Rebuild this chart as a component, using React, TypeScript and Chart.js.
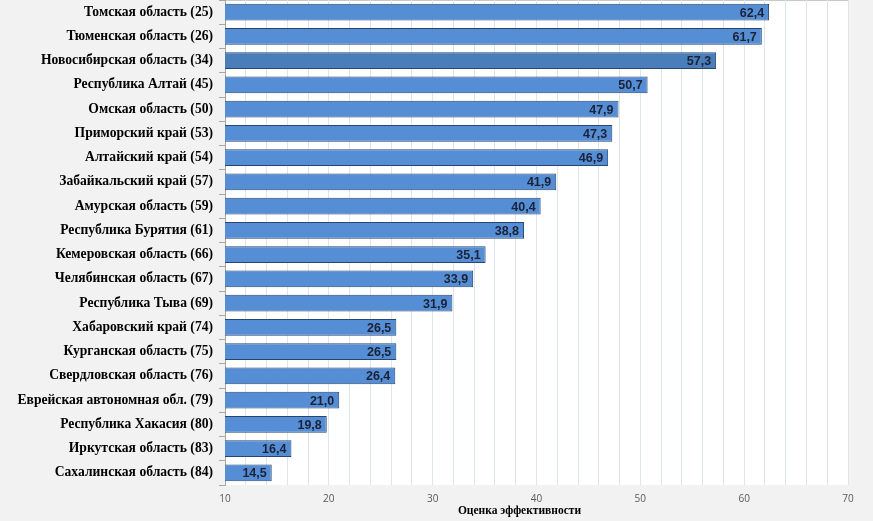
import React, { useEffect, useRef } from "react";
import { Chart, registerables } from "chart.js";

Chart.register(...registerables);

const regions = [
  "Томская область (25)",
  "Тюменская область (26)",
  "Новосибирская область (34)",
  "Республика Алтай (45)",
  "Омская область (50)",
  "Приморский край (53)",
  "Алтайский край (54)",
  "Забайкальский край (57)",
  "Амурская область (59)",
  "Республика Бурятия (61)",
  "Кемеровская область (66)",
  "Челябинская область (67)",
  "Республика Тыва (69)",
  "Хабаровский край (74)",
  "Курганская область (75)",
  "Свердловская область (76)",
  "Еврейская автономная обл. (79)",
  "Республика Хакасия (80)",
  "Иркутская область (83)",
  "Сахалинская область (84)",
];

const scores = [
  62.4, 61.7, 57.3, 50.7, 47.9, 47.3, 46.9, 41.9, 40.4, 38.8, 35.1, 33.9, 31.9,
  26.5, 26.5, 26.4, 21.0, 19.8, 16.4, 14.5,
];

const highlighted = "Новосибирская область (34)";
const axisTitle = "Оценка эффективности";
const xMin = 10;
const xMax = 70;

const backgroundPlugin = {
  id: "bgPlugin",
  beforeDraw(chart: any) {
    const { ctx, chartArea } = chart;
    ctx.save();
    ctx.fillStyle = "#f2f2f2";
    ctx.fillRect(0, 0, chart.width, chart.height);
    ctx.fillStyle = "#ffffff";
    ctx.fillRect(
      chartArea.left,
      chartArea.top,
      chartArea.right - chartArea.left,
      chartArea.bottom - chartArea.top
    );
    ctx.strokeStyle = "#c8c8c8";
    ctx.lineWidth = 1;
    ctx.beginPath();
    ctx.moveTo(chartArea.left, chartArea.top + 0.5);
    ctx.lineTo(chartArea.right, chartArea.top + 0.5);
    ctx.stroke();
    ctx.restore();
  },
  afterDraw(chart: any) {
    const { ctx, chartArea } = chart;
    ctx.save();
    ctx.font = "bold 11.5px 'Liberation Serif', 'Times New Roman', serif";
    ctx.fillStyle = "#000000";
    ctx.textAlign = "center";
    ctx.textBaseline = "middle";
    const cx = (chartArea.left + chartArea.right) / 2 - 17;
    ctx.fillText(axisTitle, cx, chart.height - 10);
    ctx.restore();
  },
};

const valueLabelPlugin = {
  id: "valueLabels",
  afterDatasetsDraw(chart: any) {
    const { ctx } = chart;
    const meta = chart.getDatasetMeta(0);
    ctx.save();
    ctx.font = "bold 12.5px 'Liberation Sans', Arial, sans-serif";
    ctx.fillStyle = "#1b2236";
    ctx.textAlign = "right";
    ctx.textBaseline = "middle";
    meta.data.forEach((bar: any, i: number) => {
      const text = scores[i].toFixed(1).replace(".", ",");
      ctx.fillText(text, bar.x - 5, bar.y + 1);
    });
    ctx.restore();
  },
};

export default function App() {
  const canvasRef = useRef<HTMLCanvasElement | null>(null);

  useEffect(() => {
    document.body.style.margin = "0";
    const canvas = canvasRef.current;
    if (!canvas) return;
    const chart = new Chart(canvas, {
      type: "bar",
      data: {
        labels: regions,
        datasets: [
          {
            data: scores,
            backgroundColor: regions.map((r) =>
              r === highlighted ? "#4a7ebb" : "#558ed5"
            ),
            borderColor: "#26466f",
            borderWidth: 1,
            borderSkipped: false,
            categoryPercentage: 0.7,
            barPercentage: 1,
          },
        ],
      },
      options: {
        indexAxis: "y",
        animation: false,
        responsive: false,
        maintainAspectRatio: false,
        devicePixelRatio: 1,
        layout: { padding: { left: 0, right: 25, top: 0, bottom: 0 } },
        plugins: {
          legend: { display: false },
          tooltip: { enabled: false },
          title: { display: false },
        },
        scales: {
          x: {
            type: "linear",
            min: xMin,
            max: xMax,
            ticks: {
              stepSize: 2,
              autoSkip: false,
              maxRotation: 0,
              padding: 8,
              color: "#595959",
              font: { family: "'Open Sans', 'Liberation Sans', sans-serif", size: 10 },
              callback: (v: any) => (Number(v) % 10 === 0 ? String(v) : ""),
            },
            grid: {
              color: "#dfe5ee",
              lineWidth: 1,
              drawTicks: false,
            },
            border: { display: false },
            title: { display: false },
            afterFit(scale: any) {
              scale.height = 36;
            },
          },
          y: {
            type: "category",
            ticks: {
              autoSkip: false,
              padding: 6,
              color: "#000000",
              font: { family: "'Liberation Serif', 'Times New Roman', serif", size: 13.6, weight: "bold" },
            },
            grid: {
              drawOnChartArea: false,
              drawTicks: true,
              tickLength: 6,
              color: "#a6a6a6",
              offset: true,
            },
            border: { display: true, color: "#a6a6a6" },
            afterFit(scale: any) {
              scale.width = 225;
              scale.paddingTop = 0;
              scale.paddingBottom = 0;
            },
          },
        },
      },
      plugins: [backgroundPlugin, valueLabelPlugin],
    } as any);
    return () => chart.destroy();
  }, []);

  return (
    <div style={{ position: "fixed", left: 0, top: 0, width: 873, height: 521, background: "#f2f2f2" }}>
      <canvas ref={canvasRef} width={873} height={521} style={{ display: "block", width: 873, height: 521 }} />
    </div>
  );
}
